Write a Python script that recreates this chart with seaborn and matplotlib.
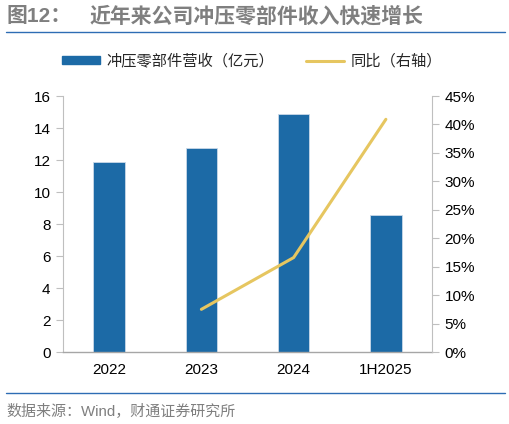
import matplotlib
matplotlib.use("Agg")
import matplotlib.pyplot as plt
import matplotlib.lines as mlines
import matplotlib.patches as mpatches
from matplotlib.ticker import FuncFormatter
import pandas as pd
import seaborn as sns

# data
periods = ["2022", "2023", "2024", "1H2025"]
revenue = [11.87, 12.73, 14.86, 8.54]       # 亿元
yoy_growth = [None, 7.5, 16.6, 40.9]        # %

bar_color = "#1C6AA6"
line_color = "#E6C660"
gray = "#A6A6A6"

sns.set_style("white")
plt.rcParams["font.family"] = ["Liberation Sans", "Noto Sans CJK SC", "DejaVu Sans"]

df = pd.DataFrame({"period": periods, "revenue": revenue, "yoy": yoy_growth})

fig = plt.figure(figsize=(5.10, 4.24), dpi=100)
ax = fig.add_axes([63 / 510, 72 / 424, 369 / 510, 256 / 424])

sns.barplot(data=df, x="period", y="revenue", color=bar_color, width=0.34,
            edgecolor="#C9D9E8", linewidth=0.6, saturation=1, ax=ax)
ax.set_ylim(0, 16)
ax.set_yticks(range(0, 17, 2))
ax.set_xlim(-0.5, 3.5)
ax.set_xlabel("")
ax.set_ylabel("")

ax2 = ax.twinx()
sns.lineplot(data=df.dropna(), x="period", y="yoy", color=line_color,
             linewidth=2.2, ax=ax2)
ax2.set_ylim(0, 45)
ax2.set_yticks(range(0, 46, 5))
ax2.yaxis.set_major_formatter(FuncFormatter(lambda v, p: f"{v:.0f}%"))
ax2.set_ylabel("")
ax2.set_xlim(-0.5, 3.5)

for a in (ax, ax2):
    for s in a.spines.values():
        s.set_visible(False)
    a.tick_params(labelsize=11, colors="#000000")

ax.spines["left"].set_visible(True)
ax.spines["left"].set_color("#BFBFBF")
ax.spines["bottom"].set_visible(True)
ax.spines["bottom"].set_color(gray)
ax.spines["bottom"].set_linewidth(1.0)
ax2.spines["right"].set_visible(True)
ax2.spines["right"].set_color("#BFBFBF")

ax.tick_params(axis="y", length=5, color="#BFBFBF", direction="out", pad=4)
ax.tick_params(axis="x", length=0, pad=8)
ax2.tick_params(axis="y", length=5, color="#BFBFBF", direction="out", pad=4)
ax.grid(False)
ax2.grid(False)

# legend
h_bar = mpatches.Patch(color=bar_color, label="冲压零部件营收（亿元）")
h_line = mlines.Line2D([], [], color=line_color, linewidth=2.2, label="同比（右轴）")
fig.legend(handles=[h_bar, h_line], loc="center", bbox_to_anchor=(252 / 510, 1 - 61 / 424),
           ncol=2, frameon=False, fontsize=11, handlelength=2.5, handleheight=0.5,
           columnspacing=2.1, handletextpad=0.4)

# title and source
fig.text(7 / 510, 1 - 16 / 424, "图12：", fontsize=15, color="#7F7F7F",
         fontweight="bold", va="center", ha="left")
fig.text(90 / 510, 1 - 16 / 424, "近年来公司冲压零部件收入快速增长", fontsize=15,
         color="#7F7F7F", fontweight="bold", va="center", ha="left")
fig.add_artist(mlines.Line2D([6 / 510, 505 / 510], [1 - 32 / 424, 1 - 32 / 424],
                             color="#2E6DB4", linewidth=1.0))
fig.add_artist(mlines.Line2D([6 / 510, 505 / 510], [1 - 393 / 424, 1 - 393 / 424],
                             color="#2E6DB4", linewidth=1.0))
fig.text(6 / 510, 1 - 411 / 424, "数据来源：Wind，财通证券研究所", fontsize=10.8,
         color="#7F7F7F", va="center", ha="left")

fig.savefig("out.png", dpi=100)
